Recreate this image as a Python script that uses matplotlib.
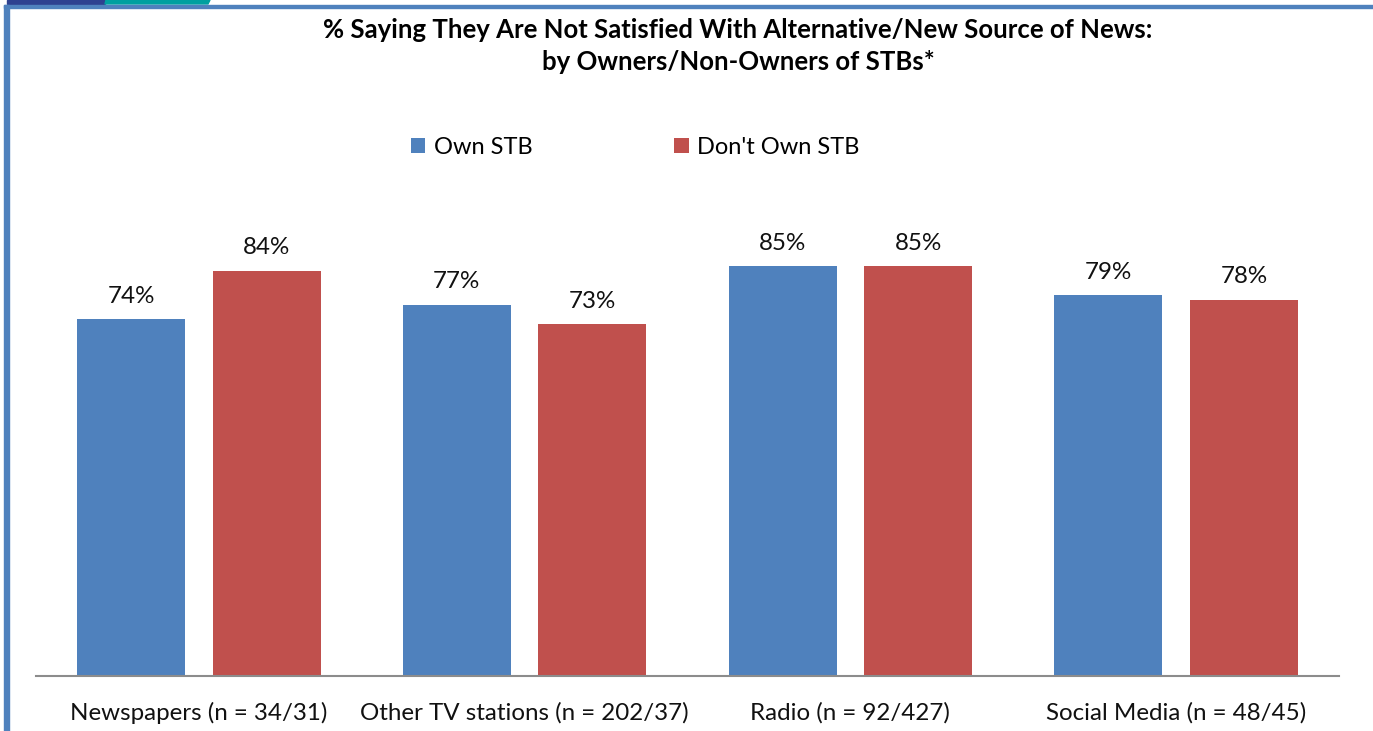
import matplotlib
matplotlib.use("Agg")
import matplotlib.pyplot as plt
from matplotlib.patches import Rectangle, Polygon
import numpy as np

categories = ["Newspapers (n = 34/31)", "Other TV stations (n = 202/37)",
              "Radio (n = 92/427)", "Social Media (n = 48/45)"]
own_stb = [74, 77, 85, 79]
dont_own_stb = [84, 73, 85, 78]
series_names = ["Own STB", "Don't Own STB"]
title = "% Saying They Are Not Satisfied With Alternative/New Source of News:\nby Owners/Non-Owners of STBs*"

BLUE = "#4F81BD"
RED = "#C0504D"
FONT = "Lato"

W, H = 1373, 731
fig = plt.figure(figsize=(W / 100, H / 100), dpi=100)

# decorative frame
def fx(x): return x / W
def fy(y): return 1 - y / H
fig.patches.append(Rectangle((fx(7), fy(4)), fx(98), 4 / H, transform=fig.transFigure,
                             color="#2E4190", zorder=0))
fig.patches.append(Polygon([(fx(105), fy(4)), (fx(208), fy(4)), (fx(210), fy(0)), (fx(106), fy(0))],
                           closed=True, transform=fig.transFigure, color="#00A0A0", zorder=0))
fig.patches.append(Rectangle((fx(4), fy(8)), 1, 3 / H, transform=fig.transFigure,
                             color=BLUE, zorder=0))
fig.patches.append(Rectangle((fx(4), 0), 5 / W, fy(5), transform=fig.transFigure,
                             color=BLUE, zorder=0))

ax = fig.add_axes([36 / W, 1 - 676 / H, (1339 - 36) / W, (676 - 194) / H])
x = np.arange(len(categories))
bw = 0.331
off = 0.208
b1 = ax.bar(x - off, own_stb, bw, color=BLUE, label=series_names[0])
b2 = ax.bar(x + off, dont_own_stb, bw, color=RED, label=series_names[1])
ax.set_xlim(-0.5, len(categories) - 0.5)
ax.set_ylim(0, 100)
for bars, vals in ((b1, own_stb), (b2, dont_own_stb)):
    for r, v in zip(bars, vals):
        ax.text(r.get_x() + r.get_width() / 2, v + 4.8, f"{v}%", ha="center", va="center",
                fontsize=17.4, family=FONT, color="#111111")

for s in ["top", "right", "left"]:
    ax.spines[s].set_visible(False)
ax.spines["bottom"].set_color("#8C8C8C")
ax.spines["bottom"].set_linewidth(1.5)
ax.set_yticks([])
ax.set_xticks(x)
ax.set_xticklabels(categories, fontsize=17.4, family=FONT, color="#111111")
ax.tick_params(axis="x", length=0, pad=19)

fig.text(738 / W, 1 - 46 / H, title, ha="center", va="center", fontsize=18.5,
         fontweight="bold", family=FONT, linespacing=1.35)

leg = fig.legend(handles=[b1, b2], labels=series_names, loc="center",
                 bbox_to_anchor=(635 / W, 1 - 147 / H), ncol=2, frameon=False,
                 prop={"family": FONT, "size": 17}, handlelength=0.62, handleheight=0.62,
                 handletextpad=0.35, columnspacing=6.0)

fig.savefig("out.png", dpi=100, facecolor="white")
